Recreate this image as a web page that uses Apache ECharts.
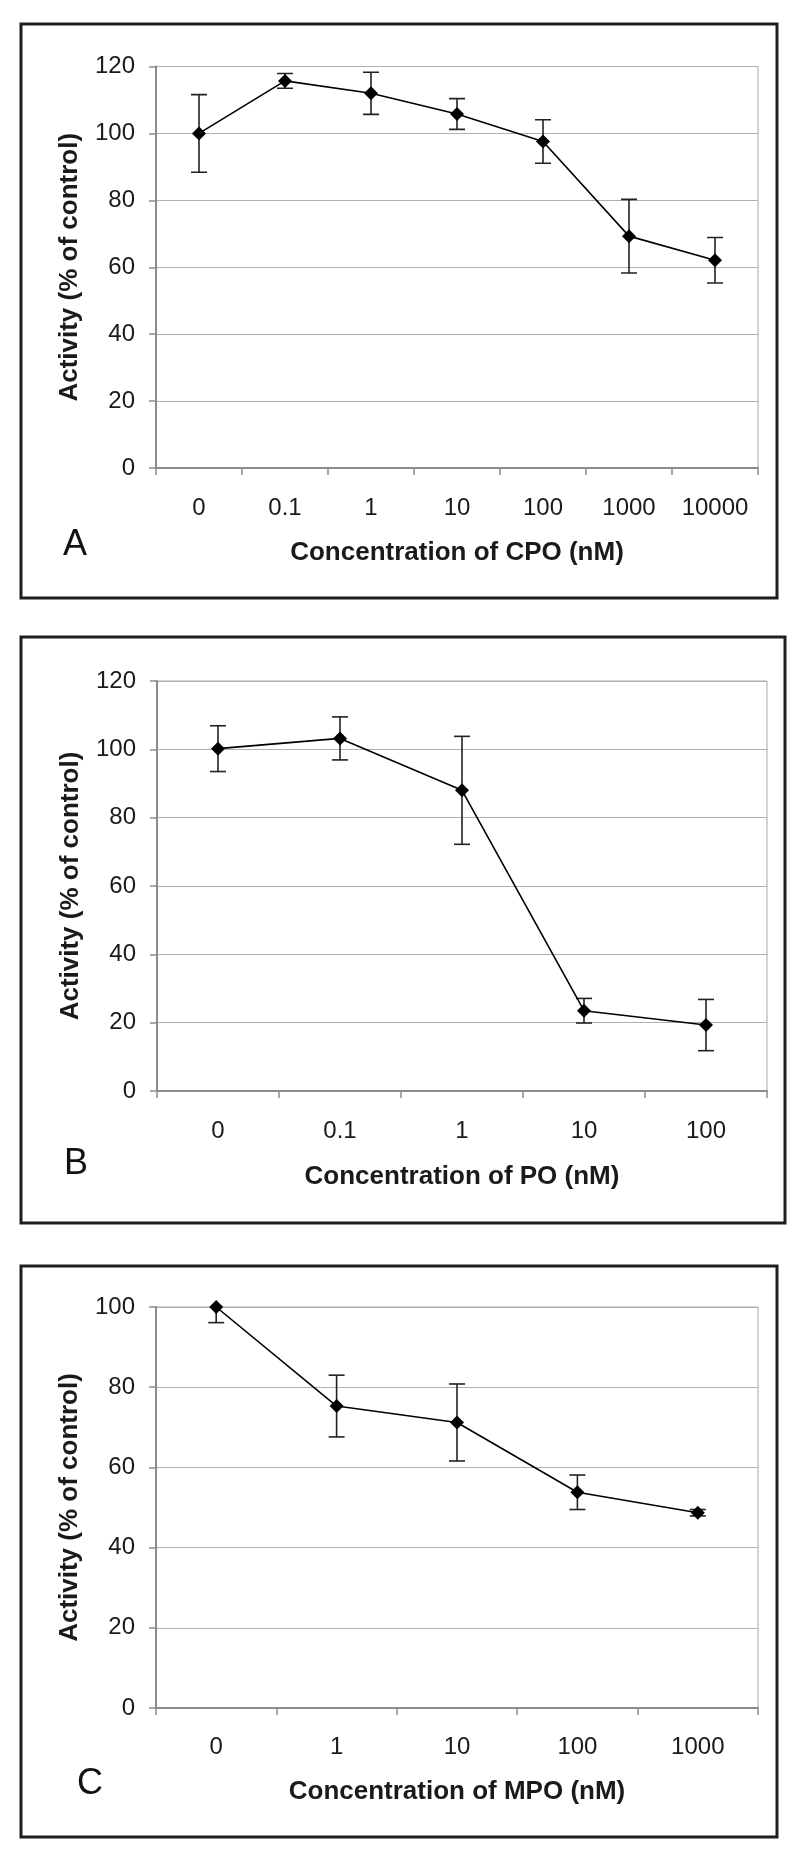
<!DOCTYPE html>
<html>
<head>
<meta charset="utf-8">
<script src="https://cdn.jsdelivr.net/npm/echarts@6/dist/echarts.min.js"></script>
<style>
html,body{margin:0;padding:0;background:#fff;}
#chart{width:800px;height:1857px;}
</style>
</head>
<body>
<div id="chart"></div>
<script>
// ---- Data ----
const catsA = ['0', '0.1', '1', '10', '100', '1000', '10000'];
const meanA = [100, 115.7, 112, 105.8, 97.6, 69.3, 62.1];
const sdA   = [11.6, 2.2, 6.3, 4.6, 6.5, 11, 6.8];

const catsB = ['0', '0.1', '1', '10', '100'];
const meanB = [100.2, 103.2, 88, 23.5, 19.3];
const sdB   = [6.7, 6.3, 15.8, 3.6, 7.5];

const catsC = ['0', '1', '10', '100', '1000'];
const meanC = [100, 75.3, 71.2, 53.8, 48.7];
const sdC   = [3.9, 7.7, 9.6, 4.3, 0.8];

const titleA = 'Concentration of CPO (nM)';
const titleB = 'Concentration of PO (nM)';
const titleC = 'Concentration of MPO (nM)';
const yTitle = 'Activity (% of control)';

// ---- Build ----
const FONT = "'Liberation Sans', Arial, sans-serif";
const panels = [
  {cats: catsA, mean: meanA, sd: sdA, title: titleA, max: 120,
   grid: {left: 156, top: 66.5, width: 602, height: 401.5}, xGap: 72, lblM: 28},
  {cats: catsB, mean: meanB, sd: sdB, title: titleB, max: 120,
   grid: {left: 157, top: 681, width: 610, height: 410}, xGap: 73, lblM: 28},
  {cats: catsC, mean: meanC, sd: sdC, title: titleC, max: 100,
   grid: {left: 156, top: 1307, width: 602, height: 401}, xGap: 71, lblM: 27}
];

const grids = [], xAxes = [], yAxes = [], series = [];
panels.forEach((p, i) => {
  grids.push(Object.assign({show: true, borderColor: '#a8a8a8', borderWidth: 1, backgroundColor: '#fff'}, p.grid));
  xAxes.push({
    type: 'category', gridIndex: i, data: p.cats, boundaryGap: true,
    name: p.title, nameLocation: 'middle', nameGap: p.xGap,
    nameTextStyle: {fontFamily: FONT, fontSize: 26, fontWeight: 'bold', color: '#1a1a1a'},
    axisLine: {show: true, lineStyle: {color: '#8c8c8c', width: 2}},
    axisTick: {show: true, length: 7, lineStyle: {color: '#8c8c8c', width: 1.5}},
    axisLabel: {fontFamily: FONT, fontSize: 24, color: '#1a1a1a', margin: p.lblM, interval: 0},
    splitLine: {show: false}
  });
  yAxes.push({
    type: 'value', gridIndex: i, min: 0, max: p.max, interval: 20,
    name: yTitle, nameLocation: 'middle', nameGap: 73, nameRotate: 90,
    nameTextStyle: {fontFamily: FONT, fontSize: 26, fontWeight: 'bold', color: '#1a1a1a'},
    axisLine: {show: true, lineStyle: {color: '#8c8c8c', width: 2}},
    axisTick: {show: true, length: 7, lineStyle: {color: '#8c8c8c', width: 1.5}},
    axisLabel: {fontFamily: FONT, fontSize: 24, color: '#1a1a1a', margin: 21},
    splitLine: {show: true, lineStyle: {color: '#b0b0b0', width: 1}}
  });
  const errData = p.mean.map((m, k) => [k, m - p.sd[k], m + p.sd[k]]);
  series.push({
    type: 'custom', xAxisIndex: i, yAxisIndex: i, clip: true, z: 2,
    data: errData,
    renderItem: function (params, api) {
      const lo = api.coord([api.value(0), api.value(1)]);
      const hi = api.coord([api.value(0), api.value(2)]);
      const w = 8;
      const st = {stroke: '#222', lineWidth: 1.6};
      return {type: 'group', children: [
        {type: 'line', shape: {x1: lo[0], y1: lo[1], x2: hi[0], y2: hi[1]}, style: st},
        {type: 'line', shape: {x1: lo[0] - w, y1: lo[1], x2: lo[0] + w, y2: lo[1]}, style: st},
        {type: 'line', shape: {x1: hi[0] - w, y1: hi[1], x2: hi[0] + w, y2: hi[1]}, style: st}
      ]};
    }
  });
  series.push({
    type: 'line', xAxisIndex: i, yAxisIndex: i, data: p.mean, z: 3,
    symbol: 'diamond', symbolSize: 14, showSymbol: true,
    itemStyle: {color: '#000'}, lineStyle: {color: '#000', width: 1.6},
    animation: false
  });
});

const boxStyle = {fill: 'none', stroke: '#1e1e1e', lineWidth: 3};
const letterStyle = (t, x, y) => ({type: 'text', x: x, y: y,
  style: {text: t, font: "36px 'Liberation Sans', Arial, sans-serif", fill: '#111',
          textAlign: 'center', textVerticalAlign: 'middle'}, z: 10});

const chart = echarts.init(document.getElementById('chart'), null, {renderer: 'canvas'});
chart.setOption({
  backgroundColor: '#fff',
  animation: false,
  grid: grids, xAxis: xAxes, yAxis: yAxes, series: series,
  graphic: [
    {type: 'rect', shape: {x: 21, y: 24, width: 756, height: 574}, style: boxStyle, z: 10},
    {type: 'rect', shape: {x: 21, y: 637, width: 764, height: 586}, style: boxStyle, z: 10},
    {type: 'rect', shape: {x: 21, y: 1266, width: 756, height: 571}, style: boxStyle, z: 10},
    letterStyle('A', 75, 545),
    letterStyle('B', 76, 1164),
    letterStyle('C', 90, 1784)
  ]
});
</script>
</body>
</html>
